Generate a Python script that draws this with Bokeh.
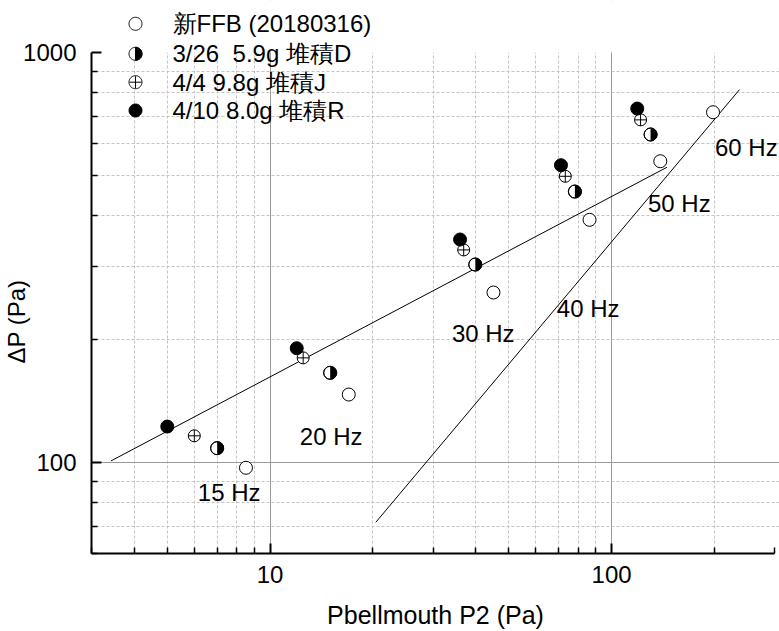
import numpy as np
from bokeh.plotting import figure
from bokeh.models import (Label, PolyAnnotation, PrintfTickFormatter, FixedTicker, Range1d,
                          BoxAnnotation, Title)
from bokeh.embed import file_html
from bokeh.resources import INLINE

# ---------------- data ----------------
ffb_x = [8.5, 17.0, 45.1, 86.2, 138.9, 198.2]          # 新FFB (20180316)
ffb_y = [97.1, 146.5, 259.8, 390.8, 543.0, 715.0]
d326_x = [7.0, 15.0, 39.9, 78.1, 130.1]                # 3/26 5.9g 堆積D
d326_y = [108.4, 165.5, 304.0, 458.0, 631.0]
d44_x = [6.0, 12.5, 36.9, 73.2, 121.6]                 # 4/4 9.8g 堆積J
d44_y = [116.2, 180.0, 330.0, 499.0, 685.0]
d410_x = [5.0, 11.97, 36.0, 71.1, 118.9]               # 4/10 8.0g 堆積R
d410_y = [122.4, 190.0, 349.9, 531.0, 730.0]

line1_x = [3.42, 145.3]
line1_y = [100.9, 525.0]
line2_x = [20.4, 237.0]
line2_y = [71.5, 812.0]

hz_labels = ["15 Hz", "20 Hz", "30 Hz", "40 Hz", "50 Hz", "60 Hz"]
hz_x = [7.59, 15.1, 42.1, 85.4, 157.9, 248.1]
hz_y = [84.5, 115.7, 206.4, 237.5, 428.0, 586.7]

legend_labels = ["新FFB (20180316)", "3/26\u00a0 5.9g 堆積D", "4/4 9.8g 堆積J", "4/10 8.0g 堆積R"]

x_lo, x_hi = 3, 300
y_lo, y_hi = 60, 1000
x_major = [10, 100]
x_minor = [3, 4, 5, 6, 7, 8, 9, 20, 30, 40, 50, 60, 70, 80, 90, 200, 300]
y_major = [100, 1000]
y_minor = [60, 70, 80, 90, 200, 300, 400, 500, 600, 700, 800, 900]

FONT = "Liberation Sans"

# ---------------- layout ----------------
W, H = 779, 631
L, B = 91, 78
AX_W = 683          # pixel length of the x axis (3 .. 300)
AX_H = 501          # pixel length of the y axis (60 .. 1000)
TOP_PAD = H - B - AX_H      # space above the y axis used by the legend
RIGHT_PAD = W - L - AX_W

# extend the ranges so the frame covers the legend area; the axes keep their bounds
lx = (np.log10(x_hi) - np.log10(x_lo)) / AX_W
ly = (np.log10(y_hi) - np.log10(y_lo)) / AX_H
x_end = 10 ** (np.log10(x_hi) + lx * RIGHT_PAD)
y_end = 10 ** (np.log10(y_hi) + ly * TOP_PAD)

p = figure(width=W, height=H, x_axis_type="log", y_axis_type="log",
           x_range=Range1d(x_lo, x_end), y_range=Range1d(y_lo, y_end),
           output_backend="svg", toolbar_location=None,
           min_border_left=L, min_border_right=0, min_border_top=0, min_border_bottom=B)
p.outline_line_color = None
p.background_fill_color = "white"
p.border_fill_color = "white"

p.xaxis.ticker = FixedTicker(ticks=x_major, minor_ticks=x_minor)
p.yaxis.ticker = FixedTicker(ticks=y_major, minor_ticks=y_minor)
p.xaxis.bounds = (x_lo, x_hi)
p.yaxis.bounds = (y_lo, y_hi)
p.xgrid.ticker = FixedTicker(ticks=x_major, minor_ticks=[v for v in x_minor if x_lo < v < x_hi])
p.ygrid.ticker = FixedTicker(ticks=[v for v in y_major if v < y_hi],
                             minor_ticks=[v for v in y_minor if y_lo < v < y_hi])

for g in (p.xgrid[0], p.ygrid[0]):
    g.grid_line_color = "#9a9a9a"
    g.grid_line_width = 1
    g.minor_grid_line_color = "#c4c4c4"
    g.minor_grid_line_dash = "3 2"
    g.minor_grid_line_width = 1

# hide grid above the top of the y axis (legend area)
p.add_layout(BoxAnnotation(bottom=y_hi, fill_color="white", fill_alpha=1.0,
                           line_color=None, level="underlay"))

for ax in (p.xaxis[0], p.yaxis[0]):
    ax.formatter = PrintfTickFormatter(format="%d")
    ax.axis_line_width = 2
    ax.axis_line_color = "black"
    ax.major_tick_in = 10
    ax.major_tick_out = 0
    ax.minor_tick_in = 6
    ax.minor_tick_out = 0
    ax.major_tick_line_width = 2
    ax.minor_tick_line_width = 1.5
    ax.major_tick_line_color = "black"
    ax.minor_tick_line_color = "black"
    ax.major_label_text_font = FONT
    ax.major_label_text_font_size = "24px"
    ax.major_label_text_color = "black"

p.xaxis.major_label_standoff = 12
p.xaxis.axis_label = "Pbellmouth P2 (Pa)"
p.xaxis.axis_label_text_font = FONT
p.xaxis.axis_label_text_font_size = "25px"
p.xaxis.axis_label_text_font_style = "normal"
p.xaxis.axis_label_text_color = "black"
p.xaxis.axis_label_standoff = 15

p.yaxis.major_label_standoff = 15

# y-axis title: a left-side title, anchored from the bottom so it can be shifted along the axis
p.add_layout(Title(text="ΔP (Pa)", align="left", offset=190, standoff=-18,
                   text_font=FONT, text_font_size="24px", text_font_style="normal",
                   text_color="black"), "left")

# ---------------- fit lines ----------------
p.line(line1_x, line1_y, line_color="black", line_width=1)
p.line(line2_x, line2_y, line_color="black", line_width=1)

# ---------------- markers ----------------
MS = 13
p.scatter(ffb_x, ffb_y, size=MS, marker="circle", fill_color="white", line_color="black", line_width=1)
p.scatter(d326_x, d326_y, size=MS, marker="circle", fill_color="white", line_color="black", line_width=1)
p.wedge(x=d326_x, y=d326_y, radius=MS / 2, radius_units="screen",
        start_angle=-np.pi / 2, end_angle=np.pi / 2, fill_color="black", line_color=None)
p.scatter(d326_x, d326_y, size=MS, marker="circle", fill_color=None, line_color="black", line_width=1)
p.scatter(d44_x, d44_y, size=MS - 1, marker="circle_cross", fill_color="white", line_color="black", line_width=1)
p.scatter(d410_x, d410_y, size=MS, marker="circle", fill_color="black", line_color="black", line_width=1)

# ---------------- frequency labels ----------------
for t, xx, yy in zip(hz_labels, hz_x, hz_y):
    p.add_layout(Label(x=xx, y=yy, text=t, text_align="center", text_baseline="middle",
                       text_font=FONT, text_font_size="24px", text_color="black"))

# ---------------- legend (top-left, partly above the y axis) ----------------
leg_cx = 135 - L
leg_rows_canvas = [23.3, 53.3, 81.7, 110.0]
r = MS / 2
theta = np.linspace(0, 2 * np.pi, 73)
half = np.linspace(-np.pi / 2, np.pi / 2, 37)

def poly(xs, ys, fill=None):
    return PolyAnnotation(xs=list(xs), ys=list(ys), xs_units="screen", ys_units="screen",
                          fill_color=fill if fill else "white", fill_alpha=1.0 if fill else 0.0,
                          line_color="black", line_alpha=1.0, line_width=1)

for i, (lab, cyc) in enumerate(zip(legend_labels, leg_rows_canvas)):
    cy = (H - B) - cyc
    cx_pts = leg_cx + r * np.cos(theta)
    cy_pts = cy + r * np.sin(theta)
    if i == 0:
        p.add_layout(poly(cx_pts, cy_pts, "white"))
    elif i == 1:
        p.add_layout(poly(cx_pts, cy_pts, "white"))
        p.add_layout(poly(leg_cx + r * np.cos(half), cy + r * np.sin(half), "black"))
    elif i == 2:
        p.add_layout(poly(cx_pts, cy_pts, "white"))
        rr = r - 0.5
        p.add_layout(poly([leg_cx - rr, leg_cx + rr], [cy, cy]))
        p.add_layout(poly([leg_cx, leg_cx], [cy - rr, cy + rr]))
    else:
        p.add_layout(poly(cx_pts, cy_pts, "black"))
    p.add_layout(Label(x=172 - L, y=cy, x_units="screen", y_units="screen", text=lab,
                       text_align="left", text_baseline="middle",
                       text_font=FONT, text_font_size="24px", text_color="black"))

open("out.html", "w").write(file_html(p, INLINE))
